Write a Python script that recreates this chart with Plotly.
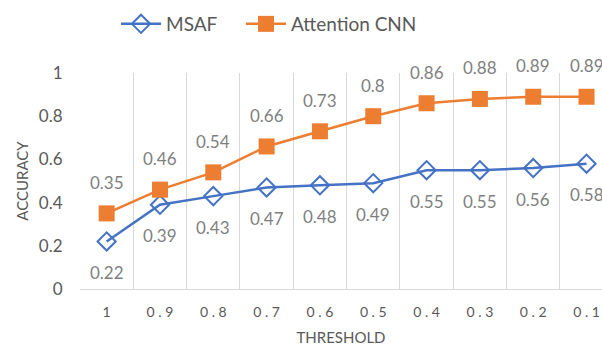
import plotly.graph_objects as go

thresholds = ["1", "0.9", "0.8", "0.7", "0.6", "0.5", "0.4", "0.3", "0.2", "0.1"]
msaf = [0.22, 0.39, 0.43, 0.47, 0.48, 0.49, 0.55, 0.55, 0.56, 0.58]
attention_cnn = [0.35, 0.46, 0.54, 0.66, 0.73, 0.8, 0.86, 0.88, 0.89, 0.89]
tick_labels = ["1", "0 . 9", "0 . 8", "0 . 7", "0 . 6", "0 . 5", "0 . 4", "0 . 3", "0 . 2", "0 . 1"]

FONT = "Lato"
TXT = "#595959"
LBL = "#7f7f7f"
BLUE = "#4472C4"
ORANGE = "#ED7D31"

fig = go.Figure()
fig.add_trace(go.Scatter(
    x=thresholds, y=msaf, name="MSAF", mode="lines+markers", legend="legend",
    line=dict(color=BLUE, width=2.5),
    marker=dict(symbol="diamond-open", size=14, color=BLUE, line=dict(width=2, color=BLUE)),
))
fig.add_trace(go.Scatter(
    x=thresholds, y=attention_cnn, name="Attention CNN", mode="lines+markers", legend="legend2",
    line=dict(color=ORANGE, width=2.5),
    marker=dict(symbol="square", size=16, color=ORANGE),
))

for i, yv in enumerate(msaf):
    fig.add_annotation(x=i, y=yv, text=f"{yv:g}", showarrow=False, yshift=-31,
                       font=dict(family=FONT, size=17, color=LBL))
for i, yv in enumerate(attention_cnn):
    fig.add_annotation(x=i, y=yv, text=f"{yv:g}", showarrow=False, yshift=31,
                       font=dict(family=FONT, size=17, color=LBL))

legend_common = dict(orientation="h", xref="paper", xanchor="left", yref="container",
                     y=1 - 5 / 346, yanchor="top",
                     font=dict(family=FONT, size=19, color=TXT), itemwidth=40,
                     bgcolor="rgba(0,0,0,0)")

fig.update_layout(
    width=602, height=346,
    margin=dict(l=80, r=0, t=73, b=57, autoexpand=False),
    paper_bgcolor="white", plot_bgcolor="white",
    font=dict(family=FONT, color=TXT),
    showlegend=True,
    legend=dict(x=(116 - 80) / 522, **legend_common),
    legend2=dict(x=(241 - 80) / 522, **legend_common),
    xaxis=dict(type="category", tickvals=thresholds, ticktext=tick_labels,
               range=[-0.5, 9.29], tickson="boundaries", showgrid=True,
               gridcolor="#d9d9d9", gridwidth=1, showline=True, linecolor="#d9d9d9",
               linewidth=1, ticks="", ticklabelstandoff=10,
               tickfont=dict(family=FONT, size=14, color=TXT),
               title=dict(text="THRESHOLD", font=dict(family=FONT, size=15, color=TXT), standoff=14),
               zeroline=False, automargin=False),
    yaxis=dict(range=[0, 1], tickvals=[0, 0.2, 0.4, 0.6, 0.8, 1],
               ticktext=["0", "0.2", "0.4", "0.6", "0.8", "1"], showgrid=False,
               zeroline=False, showline=False, ticks="outside", ticklen=13, tickcolor="rgba(0,0,0,0)",
               tickfont=dict(family=FONT, size=17, color=TXT), automargin=False,
               title=dict(text="ACCURACY", font=dict(family=FONT, size=15, color=TXT), standoff=6)),
)

fig.write_html("out.html", config={"displayModeBar": False},
               post_script="document.body.style.margin='0';document.body.style.overflow='hidden';")
